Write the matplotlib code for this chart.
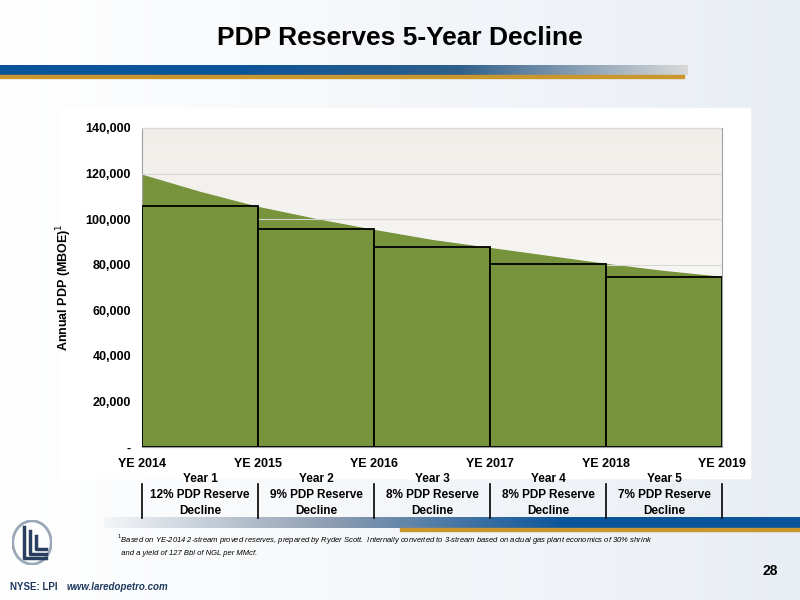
import matplotlib.pyplot as plt
import numpy as np
from matplotlib.colors import LinearSegmentedColormap

plt.rcParams['font.family'] = ['Liberation Sans', 'DejaVu Sans']

years = [2014, 2015, 2016, 2017, 2018, 2019]
year_labels = ['YE 2014', 'YE 2015', 'YE 2016', 'YE 2017', 'YE 2018', 'YE 2019']
curve_x = [2014, 2014.5, 2015, 2015.5, 2016, 2016.5, 2017, 2017.5, 2018, 2018.5, 2019]
curve_y = [119400, 111900, 105300, 100000, 95200, 90800, 87300, 83800, 80300, 77200, 74600]
bar_vals = [105800, 95700, 87800, 80300, 74600]
decline_text = ['Year 1\n12% PDP Reserve\nDecline', 'Year 2\n9% PDP Reserve\nDecline',
                'Year 3\n8% PDP Reserve\nDecline', 'Year 4\n8% PDP Reserve\nDecline',
                'Year 5\n7% PDP Reserve\nDecline']

green = '#77933c'
blue = '#0a549a'
gold = '#c9972e'

fig = plt.figure(figsize=(8, 6), dpi=100)

# slide background
bg = fig.add_axes([0, 0, 1, 1], zorder=-10)
grad = np.linspace(0, 1, 256).reshape(1, -1)
bg.imshow(grad, aspect='auto', extent=[0, 1, 0, 1],
          cmap=LinearSegmentedColormap.from_list('b', ['#ffffff', '#e9eef4']))
# title stripe
stripe = LinearSegmentedColormap.from_list('s', [blue, blue, '#2f5f8a', '#d9d9d9'])
bg.imshow(grad, aspect='auto', extent=[0, 0.86, 1 - 75/600, 1 - 65/600], cmap=stripe)
bg.fill_between([0, 0.855], 1 - 78/600, 1 - 75/600, color=gold)
# footer stripe
stripe2 = LinearSegmentedColormap.from_list('s2', ['#f4f6f8', '#8a9bb0', blue, blue])
bg.imshow(grad, aspect='auto', extent=[0.13, 1, 1 - 528/600, 1 - 518/600], cmap=stripe2)
bg.fill_between([0.5, 1], 1 - 531/600, 1 - 528/600, color=gold)
bg.set_xlim(0, 1)
bg.set_ylim(0, 1)
bg.axis('off')

# white panel behind chart
fig.patches.append(plt.Rectangle((60/800, 1 - 478/600), 690/800, 370/600,
                                 transform=fig.transFigure, color='white', zorder=-5))

ax = fig.add_axes([142/800, 1 - 447/600, 580/800, 319/600])
ax.imshow(np.linspace(1, 0, 256).reshape(-1, 1), aspect='auto',
          extent=[2014, 2019, 0, 140000],
          cmap=LinearSegmentedColormap.from_list('g', ['#ffffff', '#f1eeea']), zorder=0)
ax.fill_between(curve_x, 0, curve_y, color=green, zorder=2)
ax.bar(years[:-1], bar_vals, width=1, align='edge', color=green,
       edgecolor='black', linewidth=1.3, zorder=3)
ax.set_xlim(2014, 2019)
ax.set_ylim(0, 140000)
ax.set_yticks(range(0, 140001, 20000))
ax.set_yticklabels(['-'] + [f'{v:,}' for v in range(20000, 140001, 20000)],
                   fontsize=9, fontweight='bold')
ax.set_xticks(years)
ax.set_xticklabels(year_labels, fontsize=9, fontweight='bold')
ax.tick_params(length=0, pad=8)
ax.grid(axis='y', color='#d8d8d8', linewidth=0.8, zorder=1)
ax.set_axisbelow(False)
for s in ax.spines.values():
    s.set_color('#a0a0a0')
ax.set_ylabel('Annual PDP (MBOE)$^1$', fontsize=9, fontweight='bold', labelpad=8)

fig.text(0.5, 1 - 38/600, 'PDP Reserves 5-Year Decline', ha='center', va='center',
         fontsize=19, fontweight='bold')

for i, t in enumerate(decline_text):
    x0 = 142 + i * 116
    fig.text((x0 + 58) / 800, 1 - 495/600, t, ha='center', va='center',
             fontsize=8.5, fontweight='bold', linespacing=1.45)
for i in range(6):
    x0 = (142 + i * 116) / 800
    fig.add_artist(plt.Line2D([x0, x0], [1 - 518/600, 1 - 484/600], color='black',
                              linewidth=1.2, transform=fig.transFigure))

fig.text(117/800, 1 - 545/600, '$^1$Based on YE-2014 2-stream proved reserves, prepared by Ryder Scott.  '
         'Internally converted to 3-stream based on actual gas plant economics of 30% shrink\n'
         '  and a yield of 127 Bbl of NGL per MMcf.', fontsize=5.5, style='italic',
         va='center', linespacing=1.6)
fig.text(778/800, 1 - 571/600, '28', ha='right', va='center', fontsize=10, fontweight='bold')
fig.text(10/800, 1 - 587/600, 'NYSE: LPI', fontsize=7, fontweight='bold', color='#1f3a5f', va='center')
fig.text(67/800, 1 - 587/600, 'www.laredopetro.com', fontsize=7, style='italic',
         fontweight='bold', color='#1f3a5f', va='center')

# simple logo
lg = fig.add_axes([12/800, 1 - 565/600, 40/800, 45/600])
lg.add_patch(plt.Circle((0.5, 0.5), 0.48, fill=False, color='#9aa8b8', linewidth=2))
for k, dx in enumerate([0.3, 0.45, 0.6]):
    lg.plot([dx, dx, 0.85], [0.85 - k * 0.1, 0.15 + k * 0.1, 0.15 + k * 0.1],
            color='#2a3f5f', linewidth=2.5)
lg.set_xlim(0, 1)
lg.set_ylim(0, 1)
lg.axis('off')

fig.savefig('out.png', dpi=100)
